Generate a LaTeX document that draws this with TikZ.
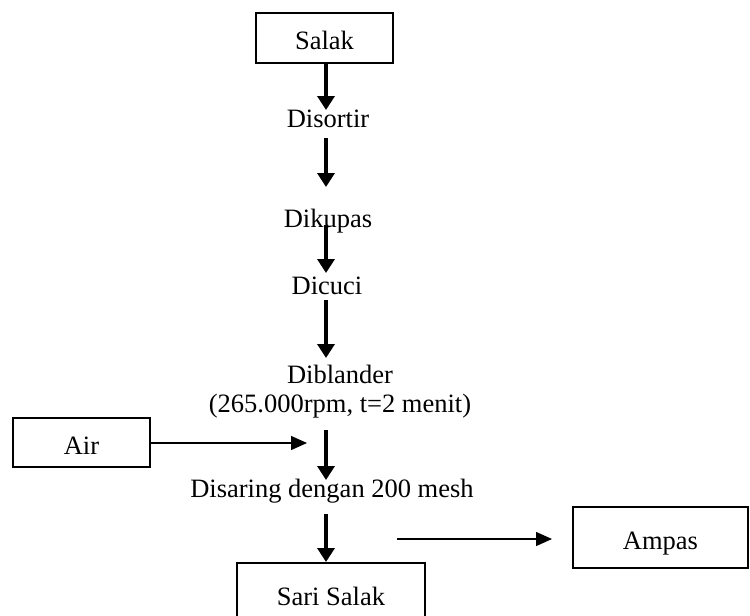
\documentclass[tikz,border=0pt]{standalone}
\usepackage{fontspec}
\setmainfont{Liberation Serif}
\usetikzlibrary{arrows.meta}
\begin{document}
\begin{tikzpicture}[x=1pt,y=-1pt,
  every node/.style={font=\fontsize{26.5}{30}\selectfont, inner sep=0pt},
  box/.style={draw, line width=2pt, text height=23pt, text depth=0pt},
  lbl/.style={anchor=base},
  thickarrow/.style={line width=3.6pt, -{Triangle[length=14pt,width=17pt]}},
  thinarrow/.style={line width=1.4pt, -{Triangle[length=16pt,width=14pt]}}]
\useasboundingbox (0,0) rectangle (750,616);
% boxes
\node[box, minimum width=137pt, minimum height=50pt] (salak) at (324.5,38) {Salak};
\node[box, minimum width=137pt, minimum height=49pt] (air) at (81.5,442.5) {Air};
\node[box, minimum width=175pt, minimum height=61pt] (ampas) at (660.5,537.5) {Ampas};
\node[box, minimum width=188pt, minimum height=62pt] (sari) at (331,594) {Sari Salak};
% step labels
\node[lbl] (disortir) at (328,127) {Disortir};
\node[lbl] (dikupas) at (328,227) {Dikupas};
\node[lbl] (dicuci) at (327,294) {Dicuci};
\node[lbl] (diblander) at (340,383) {Diblander};
\node[lbl] (diblanderb) at (340,412) {(265.000rpm, t=2 menit)};
\node[lbl] (disaring) at (332,497) {Disaring dengan 200 mesh};
% arrow end points
\coordinate (t1) at (326,110);
\coordinate (s2) at (326,138);
\coordinate (t2) at (326,187);
\coordinate (s3) at (326,225);
\coordinate (t3) at (326,273);
\coordinate (s4) at (326,300);
\coordinate (t4) at (326,358);
\coordinate (s5) at (326,430);
\coordinate (t5) at (326,480);
\coordinate (s6) at (326,514);
\coordinate (airend) at (307,443);
\coordinate (ampstart) at (397,539);
\coordinate (ampend) at (552,539);
% arrows
\draw[thickarrow] (salak.south -| t1) -- (t1);
\draw[thickarrow] (s2) -- (t2);
\draw[thickarrow] (s3) -- (t3);
\draw[thickarrow] (s4) -- (t4);
\draw[thickarrow] (s5) -- (t5);
\draw[thickarrow] (s6) -- (sari.north -| s6);
\draw[thinarrow] (air.east |- airend) -- (airend);
\draw[thinarrow] (ampstart) -- (ampend);
\end{tikzpicture}
\end{document}
